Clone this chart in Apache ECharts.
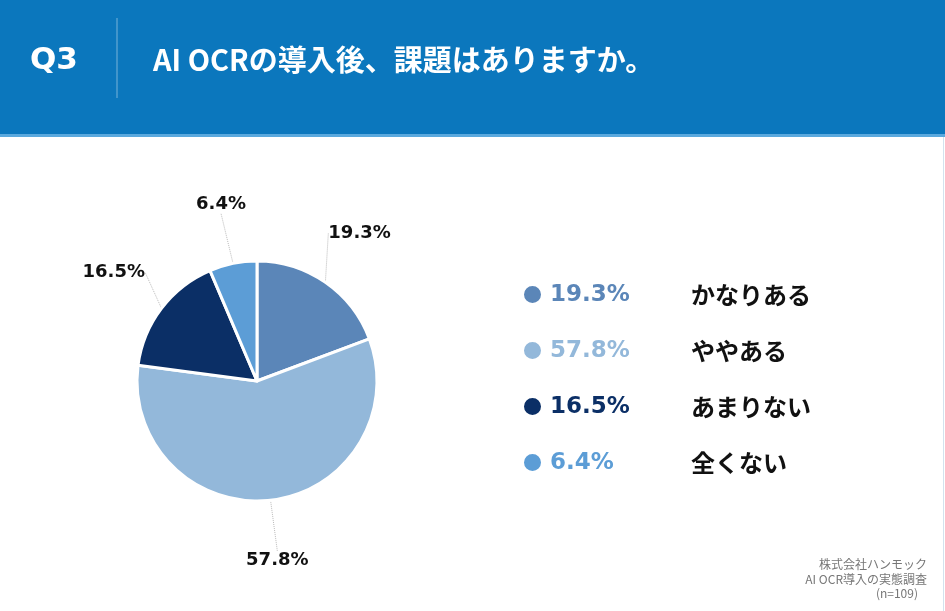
<!DOCTYPE html>
<html lang="ja">
<head>
	<meta charset="utf-8">
	<title>Q3 AI OCRの導入後、課題はありますか。</title>
	<style type="text/css">
		html, body { margin: 0; padding: 0; background: #fff; }
		#chart { width: 945px; height: 611px; }
	</style>
</head>
<body>
	<div id="chart"></div>
	<script src="https://cdn.jsdelivr.net/npm/echarts@6/dist/echarts.min.js"></script>
	<script type="text/javascript">
		// 回答データ
		var categories = ['かなりある', 'ややある', 'あまりない', '全くない'];
		var shares = [19.3, 57.8, 16.5, 6.4];
		var sliceColors = ['#5b86b8', '#93b8da', '#0b2f66', '#5c9dd6'];
		var noteLines = ['株式会社ハンモック', 'AI OCR導入の実態調査', '(n=109)'];

		var font = '"Noto Sans CJK JP", "Noto Sans", sans-serif';
		var numFont = '"DejaVu Sans", "Noto Sans", sans-serif';
		var chart = echarts.init(document.getElementById('chart'));

		var pieData = categories.map(function (name, i) {
			return { name: name, value: shares[i] };
		});

		// 凡例の%表示を色分けするためのリッチテキスト
		var rich = { n: { fontSize: 24, fontWeight: 'bold', color: '#111', fontFamily: font, lineHeight: 28 } };
		categories.forEach(function (c, i) {
			rich['p' + i] = {
				fontSize: 23, fontWeight: 'bold', color: sliceColors[i], fontFamily: numFont,
				width: 141, padding: [2, 0, 0, 3], lineHeight: 28
			};
		});

		var option = {
			backgroundColor: '#fff',
			color: sliceColors,
			textStyle: { fontFamily: font },
			graphic: [
				{ type: 'rect', shape: { x: 0, y: 0, width: 945, height: 134 }, style: { fill: '#0b77bd' } },
				{ type: 'rect', shape: { x: 0, y: 134, width: 945, height: 3 }, style: { fill: '#5aa9de' } },
				{ type: 'line', shape: { x1: 943.5, y1: 137, x2: 943.5, y2: 611 }, style: { stroke: '#d3e2ee', lineWidth: 1 } },
				{ type: 'line', shape: { x1: 117, y1: 18, x2: 117, y2: 98 }, style: { stroke: 'rgba(255,255,255,0.45)', lineWidth: 1 } },
				{ type: 'text', left: 30, top: 45, style: { text: 'Q3', fill: '#fff', font: 'bold 31px ' + numFont } },
				{ type: 'text', left: 153, top: 45, style: { text: 'AI OCRの導入後、課題はありますか。', fill: '#fff', font: 'bold 29px ' + font } },
				{ type: 'text', right: 18, top: 558, style: { text: noteLines[0], fill: '#777', font: '12px ' + font } },
				{ type: 'text', right: 18, top: 573, style: { text: noteLines[1], fill: '#777', font: '12px ' + font } },
				{ type: 'text', right: 27, top: 587, style: { text: noteLines[2], fill: '#777', font: '12px ' + font } }
			],
			legend: {
				orient: 'vertical',
				left: 517,
				top: 277,
				itemWidth: 19,
				itemHeight: 19,
				itemGap: 31,
				icon: 'circle',
				selectedMode: false,
				data: categories,
				formatter: function (name) {
					var i = categories.indexOf(name);
					return '{p' + i + '|' + shares[i] + '%}{n|' + name + '}';
				},
				textStyle: { rich: rich }
			},
			series: [{
				type: 'pie',
				center: [257, 381],
				radius: 120,
				startAngle: 90,
				clockwise: true,
				silent: true,
				data: pieData,
				itemStyle: { borderColor: '#fff', borderWidth: 3 },
				label: {
					show: true,
					formatter: '{c}%',
					fontSize: 18,
					fontWeight: 'bold',
					color: '#111',
					fontFamily: numFont
				},
				labelLine: {
					show: true,
					length: 38,
					length2: 0,
					lineStyle: { color: '#bbb', width: 1, type: 'dotted' }
				},
				// ラベルを引き出し線の先に中央揃えで置く
				labelLayout: function (params) {
					var pts = params.labelLinePoints;
					if (!pts) return {};
					var dx = pts[2][0] - pts[0][0], dy = pts[2][1] - pts[0][1];
					var len = Math.sqrt(dx * dx + dy * dy) || 1;
					return {
						x: pts[2][0] + dx / len * 22,
						y: pts[2][1] + dy / len * 22,
						align: 'center',
						verticalAlign: 'middle'
					};
				}
			}]
		};

		chart.setOption(option);
	</script>
</body>
</html>
